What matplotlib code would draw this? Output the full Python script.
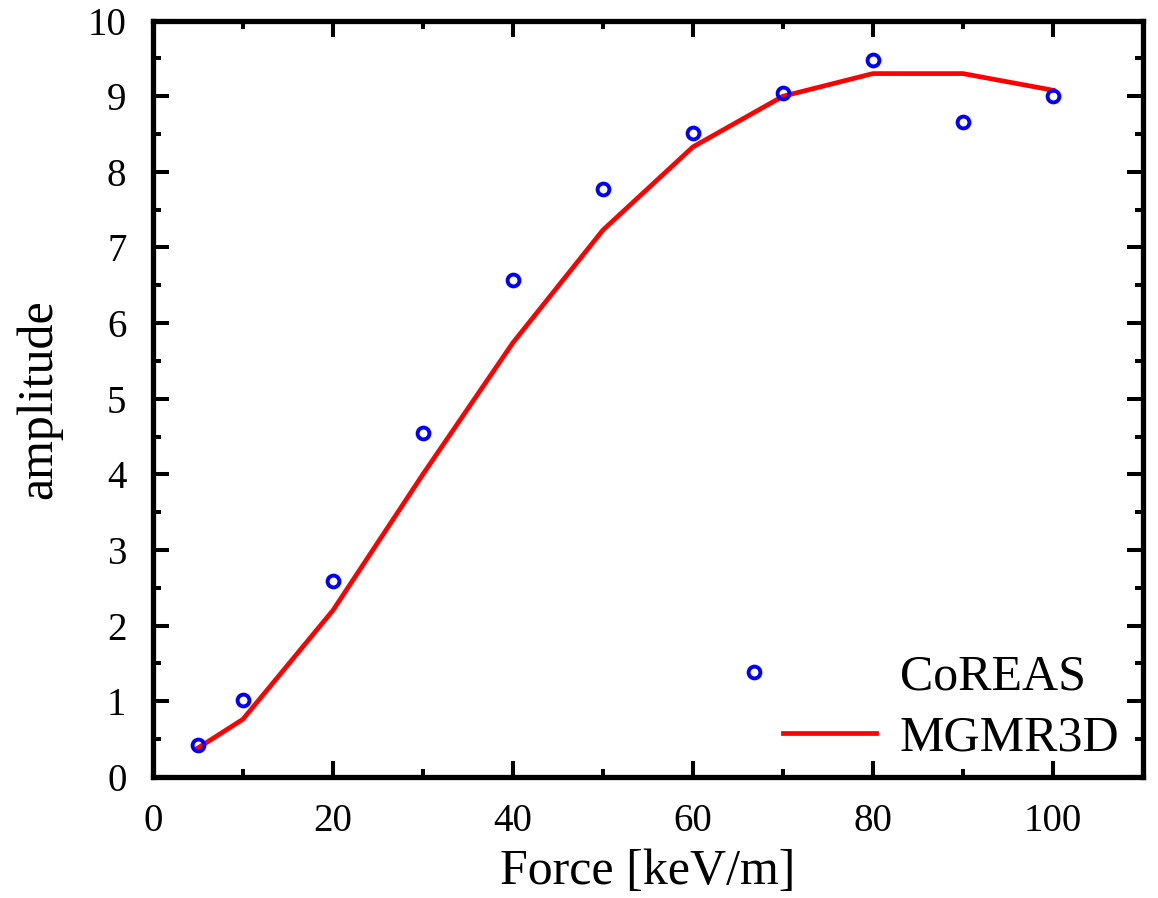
import numpy as np
import matplotlib
matplotlib.use('Agg')
import matplotlib.pyplot as plt
from matplotlib.legend_handler import HandlerLine2DCompound
from matplotlib.ticker import MultipleLocator

# CoREAS simulated points
coreas_force = [5, 10, 20, 30, 40, 50, 60, 70, 80, 90, 100]
coreas_amp = [0.42, 1.01, 2.59, 4.55, 6.57, 7.78, 8.52, 9.04, 9.48, 8.66, 9.01]

# MGMR3D curve
mgmr_force = [5, 10, 20, 30, 40, 50, 60, 70, 80, 90, 100]
mgmr_amp = [0.38, 0.76, 2.2, 4.0, 5.74, 7.23, 8.33, 9.0, 9.3, 9.3, 9.08]


class ShiftedMarkerHandler(HandlerLine2DCompound):
  """Put the legend marker left of the handle, like the original"""
  def get_xdata(self, legend, xdescent, ydescent, width, height, fontsize):
    xdata = np.array([-xdescent, -xdescent + width])
    return xdata, np.array([-xdescent - 0.31 * width])


plt.rcParams['font.family'] = ['Liberation Serif', 'DejaVu Serif']

fig = plt.figure(figsize=(11.58, 8.98), dpi=100)
ax = fig.add_axes([0.132, 0.135, 0.855, 0.842])

line, = ax.plot(mgmr_force, mgmr_amp, color='#ff0000', lw=3.4, label='MGMR3D', zorder=2)
pts, = ax.plot(coreas_force, coreas_amp, ls='none', marker='o', ms=8.5, mew=2.8,
               mfc='none', mec='#0000ff', label='CoREAS', zorder=3)

ax.set_xlim(0, 110)
ax.set_ylim(0, 10)
ax.xaxis.set_major_locator(MultipleLocator(20))
ax.xaxis.set_minor_locator(MultipleLocator(10))
ax.yaxis.set_major_locator(MultipleLocator(1))
ax.yaxis.set_minor_locator(MultipleLocator(0.5))

for s in ax.spines.values():
  s.set_linewidth(3.8)
ax.tick_params(which='both', direction='in', top=True, right=True, width=2.9, labelsize=28)
ax.tick_params(which='major', length=11.3)
ax.tick_params(axis='x', which='major', pad=19)
ax.tick_params(axis='y', which='major', pad=19)
ax.tick_params(which='minor', length=6)

ax.set_xlabel('Force [keV/m]', fontsize=36, labelpad=6)
ax.set_ylabel('amplitude', fontsize=36, labelpad=18)

ax.legend(handles=[pts, line], loc='lower right', bbox_to_anchor=(0.976, 0.02),
          frameon=False, fontsize=36, handlelength=1.86, handletextpad=0.47,
          labelspacing=0.29, borderpad=0, borderaxespad=0,
          handler_map={pts: ShiftedMarkerHandler(numpoints=1)})

fig.savefig('out.png', dpi=100)
